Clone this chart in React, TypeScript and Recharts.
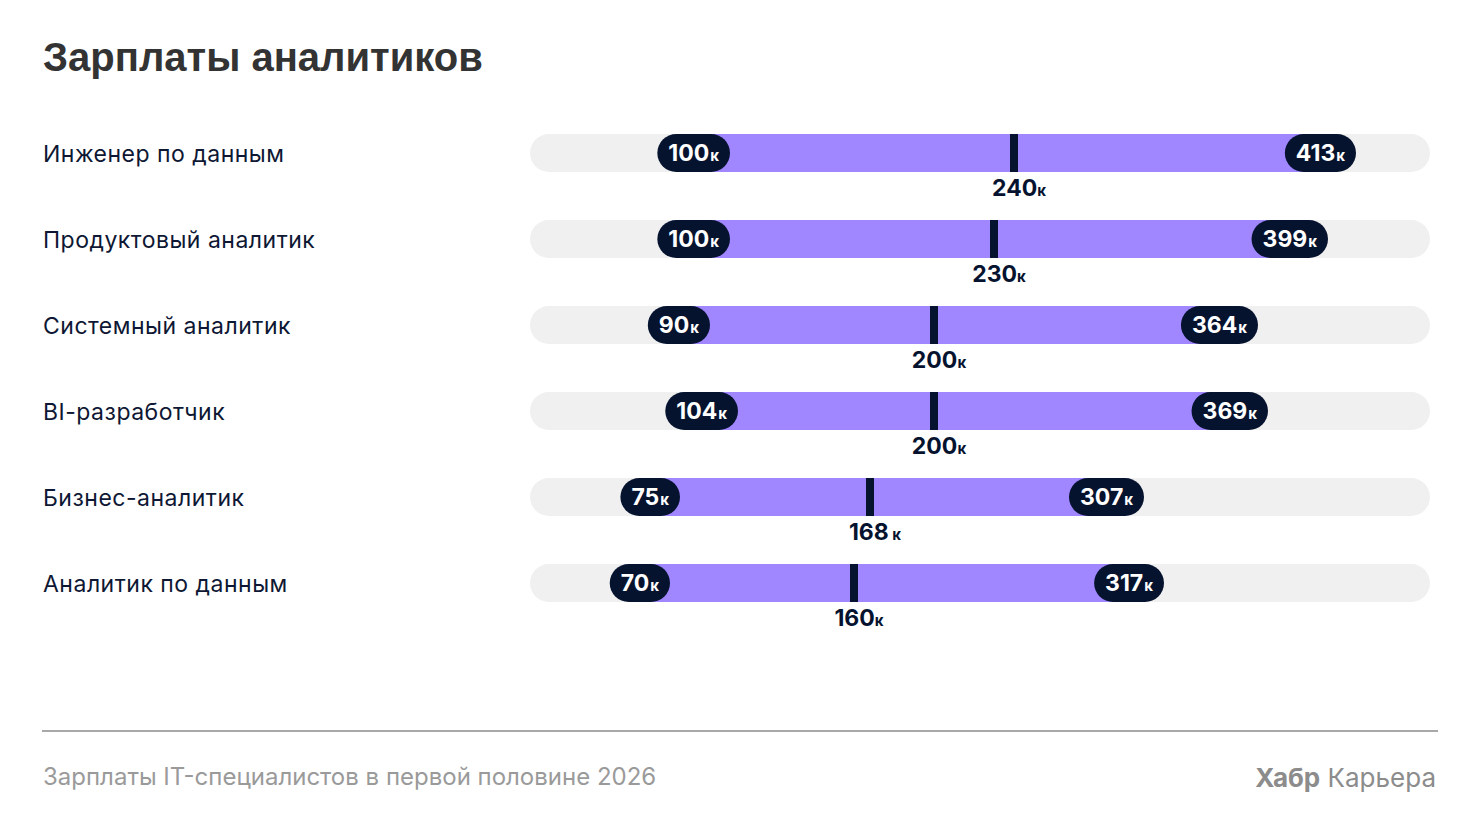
import { BarChart, Bar, XAxis, YAxis } from 'recharts';

const roles = [
  'Инженер по данным',
  'Продуктовый аналитик',
  'Системный аналитик',
  'BI-разработчик',
  'Бизнес-аналитик',
  'Аналитик по данным',
];
const minSalary = [100, 100, 90, 104, 75, 70];
const medianSalary = [240, 230, 200, 200, 168, 160];
const maxSalary = [413, 399, 364, 369, 307, 317];
const medianUnit = ['к', 'к', 'к', 'к', ' к', 'к'];
const xDomain = [0, 450];

const data = roles.map((role, i) => ({
  role,
  min: minSalary[i],
  median: medianSalary[i],
  max: maxSalary[i],
  unit: medianUnit[i],
}));

const NAVY = '#06132f';
const PURPLE = '#a087ff';
const FONT = 'Inter, "Noto Sans", sans-serif';

let ctx: CanvasRenderingContext2D | null = null;
function textWidth(text: string, font: string) {
  if (!ctx) ctx = document.createElement('canvas').getContext('2d');
  if (!ctx) return text.length * 12;
  ctx.font = font;
  return ctx.measureText(text).width;
}

function pillWidth(v: number) {
  return textWidth(String(v), `700 23px Inter`) + textWidth('к', `700 15px Inter`) + 23;
}

function Pill({ right, y, value }: { right: number; y: number; value: number }) {
  const w = pillWidth(value);
  return (
    <g>
      <rect x={right - w} y={y} width={w} height={38} rx={19} fill={NAVY} />
      <text x={right - w + 11} y={y + 27} fill="#fff" fontFamily={FONT} fontWeight={700} fontSize={23}>
        {value}
        <tspan fontSize={15} dx={1}>к</tspan>
      </text>
    </g>
  );
}

function RangeShape(props: any) {
  const { x, y, width, height, payload } = props;
  const k = width / payload.max;
  const sx = (v: number) => x + v * k;
  const minW = pillWidth(payload.min);
  const maxW = pillWidth(payload.max);
  const left = sx(payload.min) - minW / 2;
  const right = sx(payload.max) - maxW / 2;
  const mx = sx(payload.median);
  return (
    <g>
      <rect x={left} y={y} width={right - left} height={height} fill={PURPLE} />
      <rect x={mx} y={y} width={8} height={height} fill={NAVY} />
      <text x={mx + 9} y={y + height + 24} textAnchor="middle" fill={NAVY} fontFamily={FONT} fontWeight={700} fontSize={23}>
        {payload.median}
        <tspan fontSize={15}>{payload.unit}</tspan>
      </text>
      <Pill right={sx(payload.min)} y={y} value={payload.min} />
      <Pill right={sx(payload.max)} y={y} value={payload.max} />
    </g>
  );
}

function RoleTick(props: any) {
  const { y, payload } = props;
  return (
    <text x={43} y={y + 9} fill="#0e1733" fontFamily={FONT} fontSize={23} letterSpacing={0.5}>
      {payload.value}
    </text>
  );
}

export default function App() {
  return (
    <div style={{ position: 'absolute', left: 0, top: 0, width: 1480, height: 833, background: '#fff' }}>
      <BarChart
        width={1480}
        height={833}
        data={data}
        layout="vertical"
        margin={{ top: 110, right: 50, bottom: 207, left: 43 }}
      >
        <XAxis type="number" domain={xDomain} hide />
        <YAxis
          type="category"
          dataKey="role"
          width={487}
          axisLine={false}
          tickLine={false}
          tick={<RoleTick />}
        />
        <Bar
          dataKey="max"
          barSize={38}
          background={{ fill: '#f0f0f0', radius: 19 }}
          shape={<RangeShape />}
          isAnimationActive={false}
        />
      </BarChart>
      <svg width={1480} height={833} style={{ position: 'absolute', left: 0, top: 0, pointerEvents: 'none' }}>
        <text x={43} y={71} fill="#333" fontFamily='"Liberation Sans", Arial, sans-serif' fontWeight={700} fontSize={40}>
          Зарплаты аналитиков
        </text>
        <rect x={42} y={730} width={1396} height={2} fill="#a8a8a8" />
        <text x={43} y={785} fill="#9a9a9a" fontFamily={FONT} fontSize={24}>
          Зарплаты IT-специалистов в первой половине 2026
        </text>
        <text x={1436} y={787} textAnchor="end" fill="#8c8c8c" fontFamily={FONT} fontSize={26}>
          <tspan fontWeight={700}>Хабр</tspan> Карьера
        </text>
      </svg>
    </div>
  );
}
